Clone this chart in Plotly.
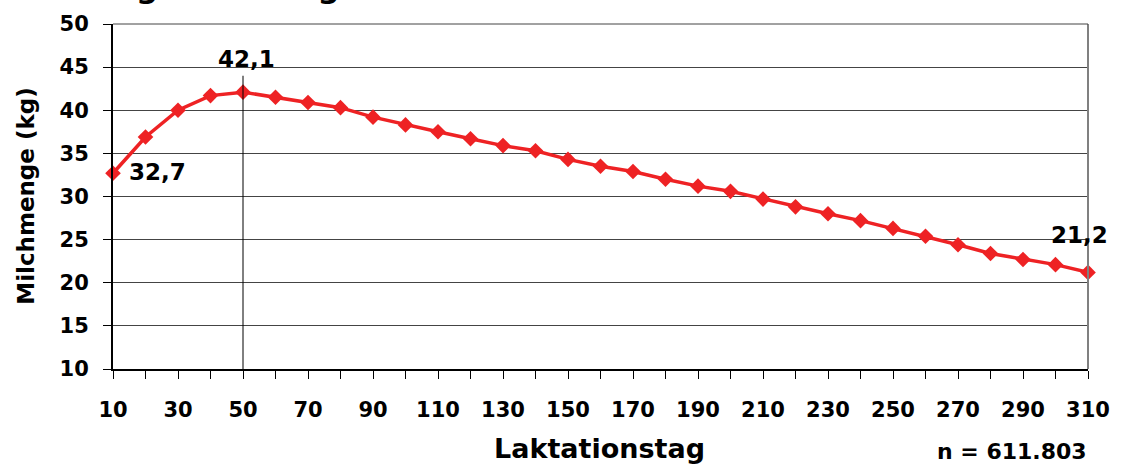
import plotly.graph_objects as go

# ---- data ----
days = [10, 20, 30, 40, 50, 60, 70, 80, 90, 100, 110, 120, 130, 140, 150, 160,
        170, 180, 190, 200, 210, 220, 230, 240, 250, 260, 270, 280, 290, 300, 310]
milk = [32.7, 36.9, 40.0, 41.7, 42.1, 41.5, 40.9, 40.3, 39.2, 38.3, 37.5, 36.7,
        35.9, 35.3, 34.3, 33.5, 32.9, 32.0, 31.2, 30.6, 29.7, 28.8, 28.0, 27.2,
        26.3, 25.4, 24.4, 23.4, 22.7, 22.1, 21.2]
x_tick_labels = [str(d) if i % 2 == 0 else "" for i, d in enumerate(days)]
y_ticks = [10, 15, 20, 25, 30, 35, 40, 45, 50]

title_text = "Tagesleistung im Laktationsverlauf"
x_title = "Laktationstag"
y_title = "Milchmenge (kg)"
n_text = "n = 611.803"

RED = "#EE2224"
FONT = "DejaVu Sans"


def fmt(v):
    return f"{v:.1f}".replace(".", ",")


peak_i = max(range(len(milk)), key=lambda i: milk[i])
drop_top = milk[peak_i] + 1.9

fig = go.Figure()
fig.add_trace(go.Scatter(
    x=days, y=milk, mode="lines+markers",
    line=dict(color=RED, width=3.5),
    marker=dict(symbol="diamond", size=12, color=RED),
    cliponaxis=False, showlegend=False, hoverinfo="x+y",
))

annotations = [
    dict(x=days[0], y=milk[0], text=fmt(milk[0]), showarrow=False,
         xanchor="left", yanchor="middle", xshift=14, yshift=1,
         font=dict(family=FONT, size=23, color="black", weight="bold")),
    dict(x=days[peak_i], y=milk[peak_i], text=fmt(milk[peak_i]), showarrow=False,
         xanchor="center", yanchor="middle", xshift=3, yshift=33,
         font=dict(family=FONT, size=23, color="black", weight="bold")),
    dict(x=days[-1], y=milk[-1], text=fmt(milk[-1]), showarrow=False,
         xanchor="right", yanchor="middle", xshift=22, yshift=37,
         font=dict(family=FONT, size=23, color="black", weight="bold")),
    dict(xref="paper", yref="paper", x=0.499, y=-0.23, text=x_title,
         showarrow=False, xanchor="center", yanchor="middle",
         font=dict(family=FONT, size=27, color="black", weight="bold")),
    dict(xref="paper", yref="paper", x=-0.09, y=0.5, text=y_title,
         showarrow=False, xanchor="center", yanchor="middle", textangle=-90,
         font=dict(family=FONT, size=23, color="black", weight="bold")),
    dict(xref="paper", yref="paper", x=0.922, y=-0.2385, text=n_text,
         showarrow=False, xanchor="center", yanchor="middle",
         font=dict(family=FONT, size=22, color="black", weight="bold")),
    dict(xref="paper", yref="paper", x=-0.0173, y=1.049, text=title_text,
         showarrow=False, xanchor="left", yanchor="bottom",
         font=dict(family=FONT, size=31, color="black", weight="bold")),
]

shapes = [
    # drop line at peak
    dict(type="line", xref="x", yref="y", x0=days[peak_i], x1=days[peak_i],
         y0=y_ticks[0], y1=drop_top, line=dict(color="black", width=1)),
    # right border of plot area
    dict(type="line", xref="paper", yref="paper", x0=1, x1=1, y0=0, y1=1,
         line=dict(color="#808080", width=2)),
    # top border
    dict(type="line", xref="paper", yref="paper", x0=0, x1=1, y0=1, y1=1,
         line=dict(color="#444444", width=1)),
]

fig.update_layout(
    width=1122, height=464,
    margin=dict(l=113, r=25, t=21, b=95),
    paper_bgcolor="white", plot_bgcolor="white",
    annotations=annotations, shapes=shapes,
    xaxis=dict(
        range=[days[0], days[-1]],
        tickmode="array", tickvals=days, ticktext=x_tick_labels,
        ticks="outside", ticklen=8, tickwidth=1, tickcolor="black",
        showline=True, linecolor="black", linewidth=2,
        showgrid=False, zeroline=False,
        ticklabelstandoff=13,
        tickfont=dict(family=FONT, size=21, color="black", weight="bold"),
    ),
    yaxis=dict(
        range=[y_ticks[0], y_ticks[-1]],
        tickmode="array", tickvals=y_ticks,
        ticks="outside", ticklen=8, tickwidth=1, tickcolor="black",
        showline=True, linecolor="black", linewidth=2,
        showgrid=True, gridcolor="#444444", gridwidth=1, zeroline=False,
        ticklabelstandoff=10,
        tickfont=dict(family=FONT, size=21, color="black", weight="bold"),
    ),
)

fig.write_html("out.html")
